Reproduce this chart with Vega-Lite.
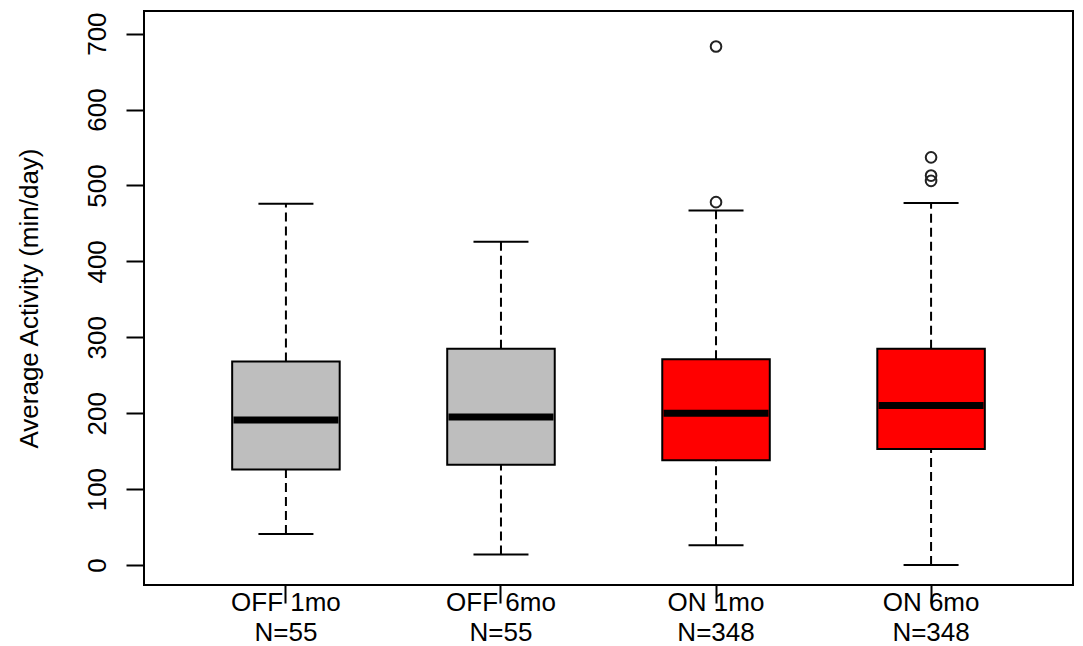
{
  "$schema": "https://vega.github.io/schema/vega-lite/v6.json",
  "width": 929,
  "height": 574,
  "autosize": {"type": "none"},
  "padding": {"left": 144, "top": 11, "right": 10, "bottom": 61},
  "background": "white",
  "config": {
    "view": {"stroke": "black", "strokeWidth": 2},
    "font": "Liberation Sans",
    "axis": {"grid": false, "domain": false, "tickColor": "black", "tickWidth": 2, "tickSize": 18, "labelFont": "Liberation Sans", "labelFontSize": 26, "labelColor": "black", "titleFont": "Liberation Sans", "titleFontSize": 26, "titleFontWeight": "normal", "titleColor": "black"}
  },
  "datasets": {
    "boxes": [
      {"group": "OFF 1mo", "status": "OFF", "n": 55, "lower": 41, "q1": 126, "median": 191, "q3": 268, "upper": 476},
      {"group": "OFF 6mo", "status": "OFF", "n": 55, "lower": 14, "q1": 132, "median": 195, "q3": 285, "upper": 426},
      {"group": "ON 1mo", "status": "ON", "n": 348, "lower": 26, "q1": 138, "median": 200, "q3": 271, "upper": 467},
      {"group": "ON 6mo", "status": "ON", "n": 348, "lower": 0, "q1": 153, "median": 210, "q3": 285, "upper": 477}
    ],
    "outliers": [
      {"group": "ON 1mo", "value": 478},
      {"group": "ON 1mo", "value": 683},
      {"group": "ON 6mo", "value": 506},
      {"group": "ON 6mo", "value": 513},
      {"group": "ON 6mo", "value": 537}
    ]
  },
  "encoding": {
    "x": {
      "field": "group", "type": "nominal",
      "sort": ["OFF 1mo", "OFF 6mo", "ON 1mo", "ON 6mo"],
      "scale": {"paddingInner": 0, "paddingOuter": 0.16},
      "axis": {
        "title": null, "labelAngle": 0, "labelPadding": -14, "labelLineHeight": 30,
        "labelExpr": "[datum.label, indexof(datum.label, 'OFF') == 0 ? '\u00a0\u00a0N=55' : '\u00a0\u00a0N=348']"
      }
    }
  },
  "layer": [
    {
      "data": {"name": "boxes"},
      "mark": {"type": "rule", "strokeDash": [9, 5], "strokeWidth": 2, "color": "black"},
      "encoding": {
        "y": {"field": "lower", "type": "quantitative", "scale": {"domain": [-26.3, 729.8], "nice": false, "zero": false},
          "axis": {"values": [0, 100, 200, 300, 400, 500, 600, 700], "labelAngle": 270, "labelAlign": "center", "labelBaseline": "alphabetic", "labelPadding": 21,
            "title": "Average Activity (min/day)", "titleAngle": 270, "titleAlign": "center", "titleBaseline": "alphabetic", "titleX": -107, "titleY": 287}},
        "y2": {"field": "q1"}
      }
    },
    {
      "data": {"name": "boxes"},
      "mark": {"type": "rule", "strokeDash": [9, 5], "strokeWidth": 2, "color": "black"},
      "encoding": {
        "y": {"field": "q3", "type": "quantitative"},
        "y2": {"field": "upper"}
      }
    },
    {
      "data": {"name": "boxes"},
      "mark": {"type": "tick", "size": 55, "thickness": 2, "color": "black", "opacity": 1},
      "encoding": {"y": {"field": "lower", "type": "quantitative"}}
    },
    {
      "data": {"name": "boxes"},
      "mark": {"type": "tick", "size": 55, "thickness": 2, "color": "black", "opacity": 1},
      "encoding": {"y": {"field": "upper", "type": "quantitative"}}
    },
    {
      "data": {"name": "boxes"},
      "mark": {"type": "bar", "width": {"band": 0.5}, "stroke": "black", "strokeWidth": 2, "opacity": 1},
      "encoding": {
        "y": {"field": "q1", "type": "quantitative"},
        "y2": {"field": "q3"},
        "fill": {"field": "status", "type": "nominal", "scale": {"domain": ["OFF", "ON"], "range": ["#BEBEBE", "#FF0000"]}, "legend": null}
      }
    },
    {
      "data": {"name": "boxes"},
      "mark": {"type": "tick", "size": 105, "thickness": 7, "color": "black", "opacity": 1},
      "encoding": {"y": {"field": "median", "type": "quantitative"}}
    },
    {
      "data": {"name": "outliers"},
      "mark": {"type": "point", "shape": "circle", "filled": false, "size": 113, "strokeWidth": 2, "color": "#222222", "opacity": 1},
      "encoding": {"y": {"field": "value", "type": "quantitative"}}
    }
  ]
}
